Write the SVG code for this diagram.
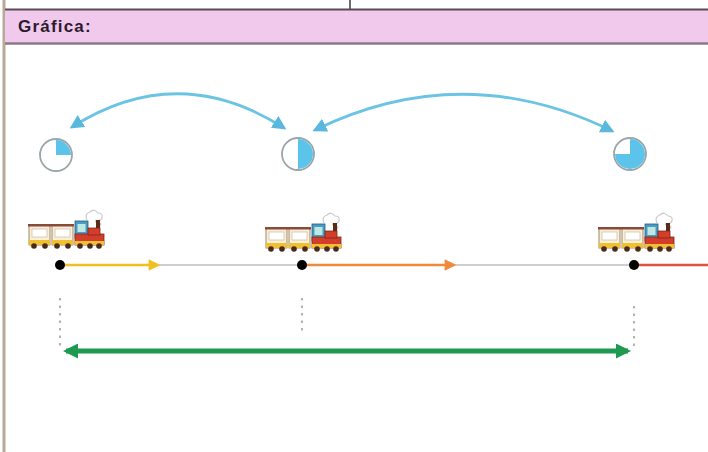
<svg xmlns="http://www.w3.org/2000/svg" width="708" height="452" viewBox="0 0 708 452">
  <style>
    .title { font-family: "Liberation Sans", Arial, sans-serif; font-size: 17px; font-weight: bold; letter-spacing: 1.2px; fill: #2a1c2c; }
    .clock { fill: #ffffff; stroke: #9aa6aa; stroke-width: 1.8; }
    .slice { fill: #5cc3ea; }
    .curve { fill: none; stroke: #6cc4e4; stroke-width: 2.8; }
    .track { stroke: #cfcfcf; stroke-width: 2; }
    .tick { stroke: #a0a0a0; stroke-width: 1.6; stroke-dasharray: 2.5 5; }
    .dot { fill: #000000; }
    .car { fill: #f8f0d8; stroke: #8a6a4a; stroke-width: 0.8; }
    .roof { fill: #8a4a3a; }
    .base { fill: #f0c030; }
    .wheel { fill: #4a2a1a; }
    .cab { fill: #4a9cc6; stroke: #2a5a7a; stroke-width: 0.8; }
    .boiler { fill: #d43c2c; stroke: #7a2a1a; stroke-width: 0.8; }
    .smoke { fill: none; stroke: #c8c8c8; stroke-width: 1.2; }
  </style>
  <defs>
    <marker id="headBlue" viewBox="0 0 10 10" refX="8" refY="5" markerWidth="5" markerHeight="5" orient="auto-start-reverse">
      <path d="M0,0 L10,5 L0,10 z" fill="#5ab8de"/>
    </marker>
    <marker id="headYellow" viewBox="0 0 10 10" refX="8" refY="5" markerWidth="6" markerHeight="4.5" orient="auto">
      <path d="M0,0 L10,5 L0,10 z" fill="#f2c01e"/>
    </marker>
    <marker id="headOrange" viewBox="0 0 10 10" refX="8" refY="5" markerWidth="6" markerHeight="4.5" orient="auto">
      <path d="M0,0 L10,5 L0,10 z" fill="#ef8a3a"/>
    </marker>
    <marker id="headGreen" viewBox="0 0 10 10" refX="8" refY="5" markerWidth="3.6" markerHeight="3" orient="auto-start-reverse">
      <path d="M0,0 L10,5 L0,10 z" fill="#1e9a50"/>
    </marker>
    <!-- small toy train: two carriages and an engine -->
    <g id="train">
      <path class="smoke" d="M58,4 q-3,-6 3,-8 q4,-4 8,1 q5,0 4,5 q-2,4 -7,2 M66,6 q3,-2 6,2 q-1,3 -4,3"/>
      <rect class="car" x="0" y="9" width="21" height="20"/>
      <rect class="roof" x="-1" y="8" width="23" height="2.5"/>
      <rect x="3" y="13" width="15" height="8" fill="#ffffff" stroke="#c8b090" stroke-width="0.6"/>
      <rect class="base" x="0" y="24" width="21" height="5"/>
      <rect class="car" x="23" y="9" width="21" height="20"/>
      <rect class="roof" x="22" y="8" width="23" height="2.5"/>
      <rect x="26" y="13" width="15" height="8" fill="#ffffff" stroke="#c8b090" stroke-width="0.6"/>
      <rect class="base" x="23" y="24" width="21" height="5"/>
      <rect class="cab" x="46" y="5" width="13" height="17"/>
      <rect x="48.5" y="8" width="8" height="8" fill="#bfe8e0"/>
      <rect class="boiler" x="46" y="18" width="29" height="11"/>
      <rect class="boiler" x="59" y="12" width="12" height="7"/>
      <rect x="67" y="4" width="4" height="8" fill="#5a2a1a"/>
      <rect class="base" x="46" y="25" width="29" height="4"/>
      <circle class="wheel" cx="5" cy="30" r="2.8"/>
      <circle class="wheel" cx="16" cy="30" r="2.8"/>
      <circle class="wheel" cx="28" cy="30" r="2.8"/>
      <circle class="wheel" cx="39" cy="30" r="2.8"/>
      <circle class="wheel" cx="51" cy="30" r="2.8"/>
      <circle class="wheel" cx="61" cy="30" r="2.8"/>
      <circle class="wheel" cx="70" cy="30" r="2.8"/>
    </g>
  </defs>

  <rect width="708" height="452" fill="#ffffff"/>

  <!-- frame: outer left border, top divider and header band -->
  <line x1="4" y1="0" x2="4" y2="452" stroke="#b8aa98" stroke-width="3"/>
  <line x1="350" y1="0" x2="350" y2="9" stroke="#6a6a6a" stroke-width="2"/>
  <g id="header">
    <rect x="5" y="10" width="704" height="33" fill="#f1c9ec"/>
    <line x1="5" y1="9.5" x2="708" y2="9.5" stroke="#5a4a58" stroke-width="2"/>
    <line x1="5" y1="43.5" x2="708" y2="43.5" stroke="#8a7a88" stroke-width="2.5"/>
    <text class="title" x="18" y="32">Gráfica:</text>
  </g>

  <!-- connectors -->
  <g id="connectors">
    <path class="curve" d="M72,127 Q178,60 284,128" marker-start="url(#headBlue)" marker-end="url(#headBlue)"/>
    <path class="curve" d="M315,130 Q463,58 612,131" marker-start="url(#headBlue)" marker-end="url(#headBlue)"/>

    <line class="track" x1="60" y1="265" x2="708" y2="265"/>
    <line x1="60" y1="265" x2="158" y2="265" stroke="#f2c01e" stroke-width="2.6" marker-end="url(#headYellow)"/>
    <line x1="302" y1="265" x2="454" y2="265" stroke="#ef8a3a" stroke-width="2.6" marker-end="url(#headOrange)"/>
    <line x1="634" y1="265" x2="708" y2="265" stroke="#e0523e" stroke-width="2.6"/>

    <line class="tick" x1="60" y1="298" x2="60" y2="350"/>
    <line class="tick" x1="302" y1="298" x2="302" y2="332"/>
    <line class="tick" x1="634" y1="306" x2="634" y2="350"/>

    <line x1="66" y1="351" x2="628" y2="351" stroke="#1e9a50" stroke-width="5" marker-start="url(#headGreen)" marker-end="url(#headGreen)"/>
  </g>

  <!-- point A: quarter -->
  <g id="pointA">
    <circle class="clock" cx="56" cy="155" r="16"/>
    <path class="slice" d="M56,155 L56,140 A15,15 0 0 1 71,155 z"/>
    <use href="#train" x="29" y="216"/>
    <circle class="dot" cx="60" cy="265" r="5"/>
  </g>

  <!-- point B: half -->
  <g id="pointB">
    <circle class="clock" cx="298" cy="154" r="16"/>
    <path class="slice" d="M298,139 A15,15 0 0 1 298,169 z"/>
    <use href="#train" x="266" y="219"/>
    <circle class="dot" cx="302" cy="265" r="5"/>
  </g>

  <!-- point C: three quarters -->
  <g id="pointC">
    <circle class="clock" cx="630" cy="154" r="16"/>
    <path class="slice" d="M630,154 L630,139 A15,15 0 1 1 615,154 z"/>
    <use href="#train" x="599" y="219"/>
    <circle class="dot" cx="634" cy="265" r="5"/>
  </g>
</svg>
